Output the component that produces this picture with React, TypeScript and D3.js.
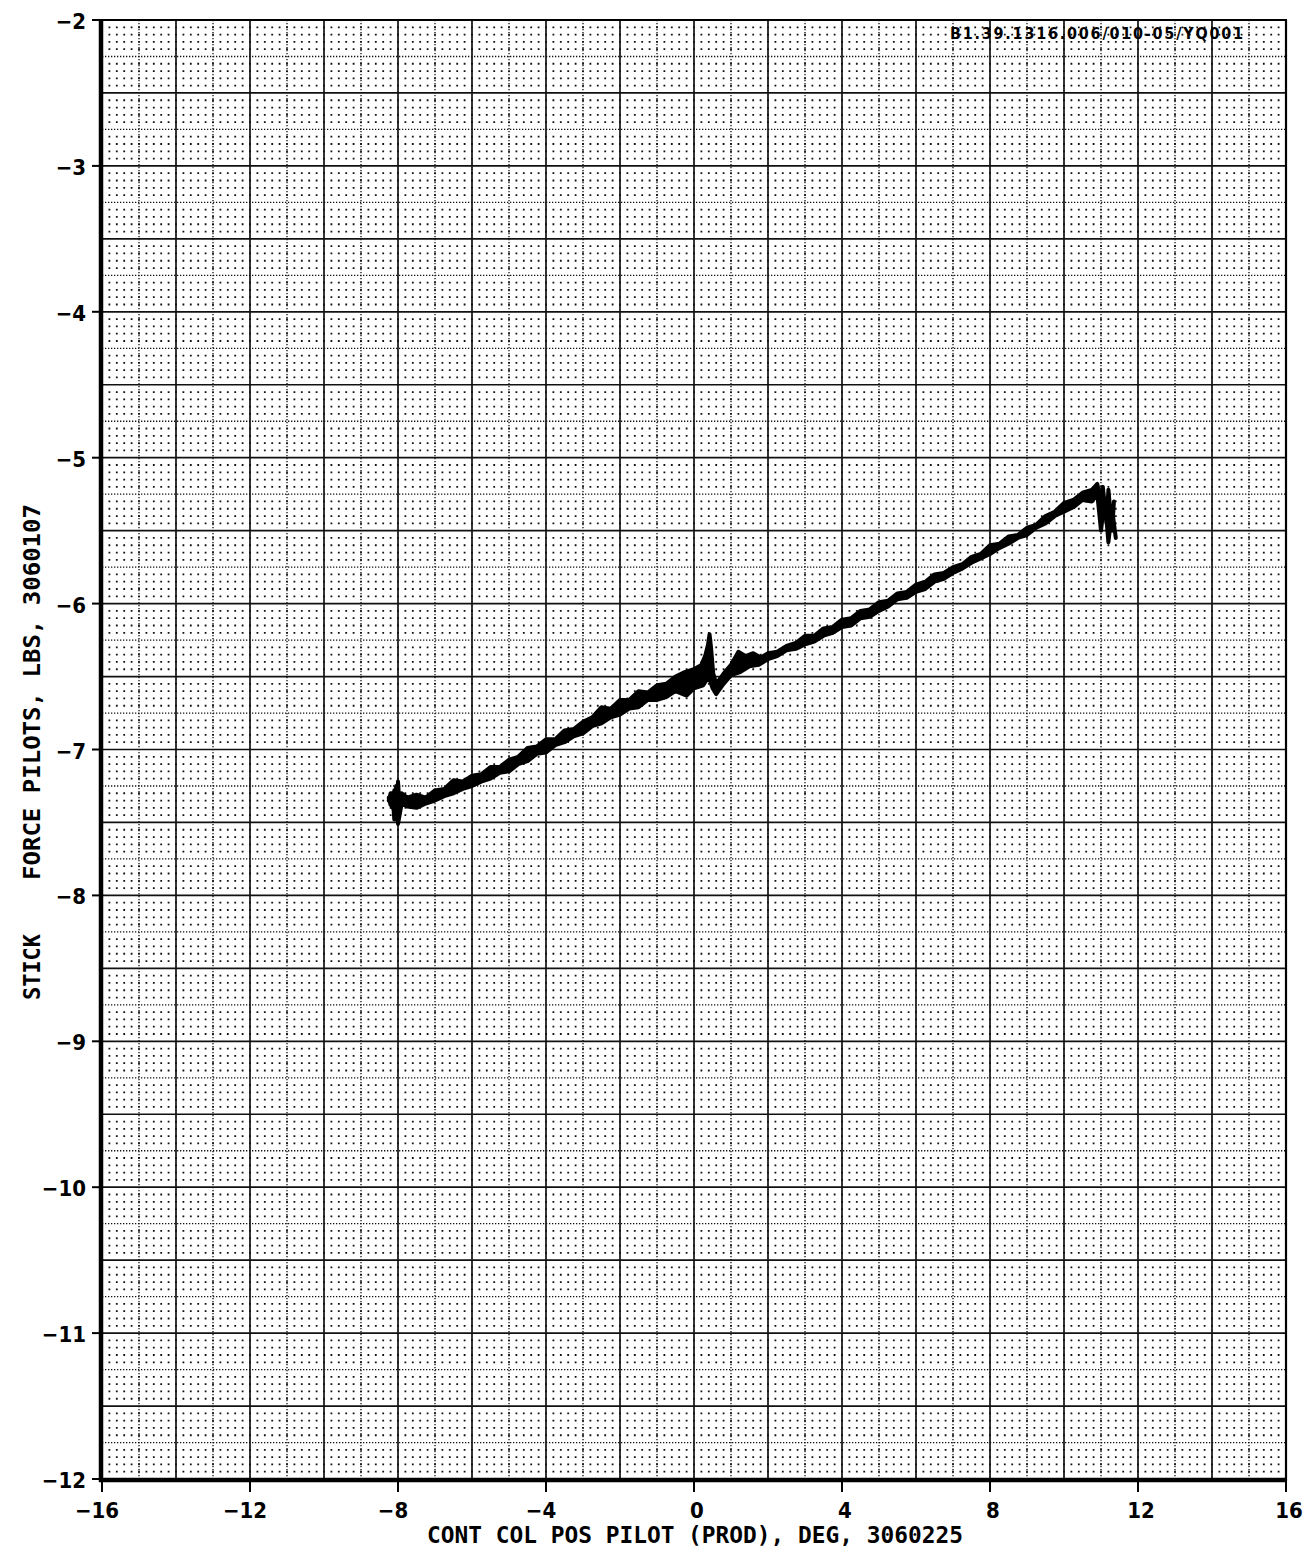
import React from 'react';
import * as d3 from 'd3';

const xTickValues = [-16, -12, -8, -4, 0, 4, 8, 12, 16];
const yTickValues = [-2, -3, -4, -5, -6, -7, -8, -9, -10, -11, -12];
const chartId = 'B1.39.1316.006/010-05/YQ001';
const xTitle = 'CONT COL POS PILOT (PROD), DEG, 3060225';
const yTitleStick = 'STICK';
const yTitleForce = 'FORCE PILOTS, LBS, 3060107';

const forwardX = [-8.25, -8.2, -8.15, -8.1, -8.05, -8.0, -7.95, -7.9, -7.75, -7.5, -7.25, -7.0, -6.75, -6.5, -6.25, -6.0, -5.75, -5.5, -5.25, -5.0, -4.75, -4.5, -4.25, -4.0, -3.75, -3.5, -3.25, -3.0, -2.75, -2.5, -2.25, -2.0, -1.75, -1.5, -1.25, -1.0, -0.75, -0.5, -0.25, 0.0, 0.2, 0.3, 0.38, 0.42, 0.46, 0.52, 0.6, 0.8, 1.0, 1.2, 1.4, 1.6, 1.8, 2.0, 2.25, 2.5, 2.75, 3.0, 3.25, 3.5, 3.75, 4.0, 4.25, 4.5, 4.75, 5.0, 5.25, 5.5, 5.75, 6.0, 6.25, 6.5, 6.75, 7.0, 7.25, 7.5, 7.75, 8.0, 8.25, 8.5, 8.75, 9.0, 9.25, 9.5, 9.75, 10.0, 10.25, 10.5, 10.75, 10.9, 11.0, 11.05, 11.15, 11.2, 11.3, 11.35];
const forwardY = [-7.35, -7.3, -7.4, -7.28, -7.45, -7.22, -7.42, -7.3, -7.33, -7.31, -7.33, -7.28, -7.27, -7.21, -7.22, -7.18, -7.17, -7.12, -7.12, -7.07, -7.05, -6.99, -6.98, -6.93, -6.93, -6.87, -6.86, -6.81, -6.78, -6.71, -6.72, -6.66, -6.66, -6.6, -6.61, -6.56, -6.55, -6.5, -6.47, -6.45, -6.42, -6.36, -6.28, -6.21, -6.3, -6.48, -6.55, -6.48, -6.42, -6.33, -6.36, -6.34, -6.37, -6.34, -6.33, -6.29, -6.27, -6.22, -6.22, -6.17, -6.16, -6.11, -6.1, -6.05, -6.04, -5.99, -5.98, -5.93, -5.92, -5.87, -5.85, -5.8, -5.79, -5.75, -5.73, -5.68, -5.66, -5.6, -5.59, -5.54, -5.53, -5.48, -5.46, -5.4, -5.37, -5.31, -5.29, -5.24, -5.22, -5.18, -5.3, -5.2, -5.45, -5.22, -5.5, -5.3];

const returnX = [11.4, 11.3, 11.2, 11.1, 11.0, 10.9, 10.75, 10.5, 10.25, 10.0, 9.75, 9.5, 9.25, 9.0, 8.75, 8.5, 8.25, 8.0, 7.75, 7.5, 7.25, 7.0, 6.75, 6.5, 6.25, 6.0, 5.75, 5.5, 5.25, 5.0, 4.75, 4.5, 4.25, 4.0, 3.75, 3.5, 3.25, 3.0, 2.75, 2.5, 2.25, 2.0, 1.75, 1.5, 1.25, 1.0, 0.8, 0.6, 0.5, 0.4, 0.25, 0.0, -0.2, -0.5, -0.75, -1.0, -1.25, -1.5, -1.75, -2.0, -2.25, -2.5, -2.75, -3.0, -3.25, -3.5, -3.75, -4.0, -4.25, -4.5, -4.75, -5.0, -5.25, -5.5, -5.75, -6.0, -6.25, -6.5, -6.75, -7.0, -7.25, -7.5, -7.75, -7.9, -8.0, -8.05, -8.1, -8.15, -8.2, -8.25];
const returnY = [-5.55, -5.35, -5.58, -5.28, -5.5, -5.25, -5.3, -5.29, -5.34, -5.37, -5.4, -5.45, -5.48, -5.53, -5.55, -5.59, -5.62, -5.66, -5.69, -5.72, -5.76, -5.79, -5.83, -5.85, -5.9, -5.92, -5.96, -5.97, -6.02, -6.05, -6.09, -6.1, -6.15, -6.16, -6.2, -6.22, -6.26, -6.28, -6.31, -6.32, -6.36, -6.38, -6.42, -6.43, -6.47, -6.49, -6.55, -6.62, -6.58, -6.5, -6.56, -6.58, -6.63, -6.6, -6.64, -6.66, -6.66, -6.71, -6.72, -6.76, -6.78, -6.82, -6.84, -6.89, -6.91, -6.95, -6.97, -7.02, -7.03, -7.08, -7.1, -7.15, -7.16, -7.2, -7.22, -7.25, -7.27, -7.3, -7.32, -7.35, -7.37, -7.4, -7.39, -7.37, -7.51, -7.25, -7.48, -7.3, -7.38, -7.33];

const W = 1311;
const H = 1550;
const LABEL_FONT = '"DejaVu Sans Condensed", "DejaVu Sans", sans-serif';
const MONO_FONT = '"DejaVu Sans Mono", "Liberation Mono", monospace';

const fmt = (v: number) => String(v).replace('-', '\u2212');

export default function App() {
  const x = d3.scaleLinear().domain([-16, 16]).range([102, 1286]);
  const y = d3.scaleLinear().domain([-12, -2]).range([1479, 20]);

  const line = d3
    .line<[number, number]>()
    .x((d) => x(d[0]))
    .y((d) => y(d[1]));

  const forward: [number, number][] = forwardX.map((v, i) => [v, forwardY[i]]);
  const back: [number, number][] = returnX.map((v, i) => [v, returnY[i]]);
  const loop: [number, number][] = forward.concat(back);

  const xSolid = d3.range(-14, 15, 2);
  const xDotted = d3.range(-15, 16, 2);
  const ySolid = d3.range(1, 20).map((i) => -12 + i * 0.5);
  const yDotted = d3.range(0, 20).map((i) => -11.75 + i * 0.5);
  const dotRows = d3
    .range(1, 200)
    .filter((i) => i % 5 !== 0)
    .map((i) => -12 + i * 0.05);

  const x0 = x(-16);
  const x1 = x(16);
  const yTop = y(-2);
  const yBot = y(-12);
  const dotPitch = x(-15.8) - x(-16);

  return (
    <svg
      width={W}
      height={H}
      style={{ position: 'absolute', left: 0, top: 0, background: '#fff' }}
    >
      <rect x={0} y={0} width={W} height={H} fill="#fff" />

      {/* dot lattice */}
      <g stroke="#111" strokeWidth={1.8}>
        {dotRows.map((v) => (
          <line
            key={'dr' + v.toFixed(2)}
            x1={x0 - 0.9}
            x2={x1 + 0.9}
            y1={y(v)}
            y2={y(v)}
            strokeDasharray={`1.8 ${(dotPitch - 1.8).toFixed(3)}`}
          />
        ))}
      </g>

      {/* dotted grid lines */}
      <g stroke="#111" strokeWidth={1.3} strokeDasharray="1.3 1.7">
        {xDotted.map((v) => (
          <line key={'xd' + v} x1={x(v)} x2={x(v)} y1={yTop} y2={yBot} />
        ))}
        {yDotted.map((v) => (
          <line key={'yd' + v} x1={x0} x2={x1} y1={y(v)} y2={y(v)} />
        ))}
      </g>

      {/* solid grid lines */}
      <g stroke="#111" strokeWidth={1.7}>
        {xSolid.map((v) => (
          <line key={'xs' + v} x1={x(v)} x2={x(v)} y1={yTop} y2={yBot} />
        ))}
        {ySolid.map((v) => (
          <line key={'ys' + v} x1={x0} x2={x1} y1={y(v)} y2={y(v)} />
        ))}
      </g>

      {/* frame */}
      <line x1={x0 - 2} x2={x1 + 1} y1={yTop} y2={yTop} stroke="#000" strokeWidth={2.2} />
      <line x1={x1} x2={x1} y1={yTop} y2={yBot + 2} stroke="#000" strokeWidth={2.2} />
      <line x1={x0 - 1} x2={x0 - 1} y1={yTop - 1} y2={yBot + 3} stroke="#000" strokeWidth={4.5} />
      <line x1={x0 - 3} x2={x1 + 1} y1={yBot + 1} y2={yBot + 1} stroke="#000" strokeWidth={4.5} />

      {/* ticks */}
      <g stroke="#000" strokeWidth={2}>
        {xTickValues.map((v) => (
          <line key={'xt' + v} x1={x(v)} x2={x(v)} y1={yBot + 2} y2={yBot + 13} />
        ))}
        {yTickValues.map((v) => (
          <line key={'yt' + v} x1={x0 - 10} x2={x0} y1={y(v)} y2={y(v)} />
        ))}
      </g>

      {/* data traces: forward and return sweep form a filled jagged band */}
      <path d={(line(loop) || '') + 'Z'} fill="#000" stroke="none" />
      <g fill="none" stroke="#000" strokeWidth={4} strokeLinejoin="round" strokeLinecap="round">
        <path d={line(forward) || ''} />
        <path d={line(back) || ''} />
      </g>

      {/* tick labels */}
      <g fontFamily={LABEL_FONT} fontWeight="bold" fontSize={22} fill="#000">
        {yTickValues.map((v) => (
          <text key={'yl' + v} x={86} y={y(v) + 9} textAnchor="end">
            {fmt(v)}
          </text>
        ))}
        {xTickValues.map((v) => (
          <text key={'xl' + v} x={x(v) + (v < 0 ? -5 : 3)} y={1518} textAnchor="middle">
            {fmt(v)}
          </text>
        ))}
      </g>

      {/* titles */}
      <g fontFamily={MONO_FONT} fontWeight="bold" fill="#000">
        <text x={427} y={1543} fontSize={23} textLength={536} lengthAdjust="spacingAndGlyphs">
          {xTitle}
        </text>
        <text
          fontSize={23}
          textAnchor="middle"
          transform="translate(40, 967) rotate(-90)"
          textLength={66}
          lengthAdjust="spacingAndGlyphs"
        >
          {yTitleStick}
        </text>
        <text
          fontSize={23}
          textAnchor="middle"
          transform="translate(40, 692) rotate(-90)"
          textLength={376}
          lengthAdjust="spacingAndGlyphs"
        >
          {yTitleForce}
        </text>
      </g>
      <text
        x={950}
        y={39}
        fontFamily={LABEL_FONT}
        fontWeight="bold"
        fontSize={16}
        textLength={293}
        lengthAdjust="spacing"
        fill="#000"
      >
        {chartId}
      </text>
    </svg>
  );
}
